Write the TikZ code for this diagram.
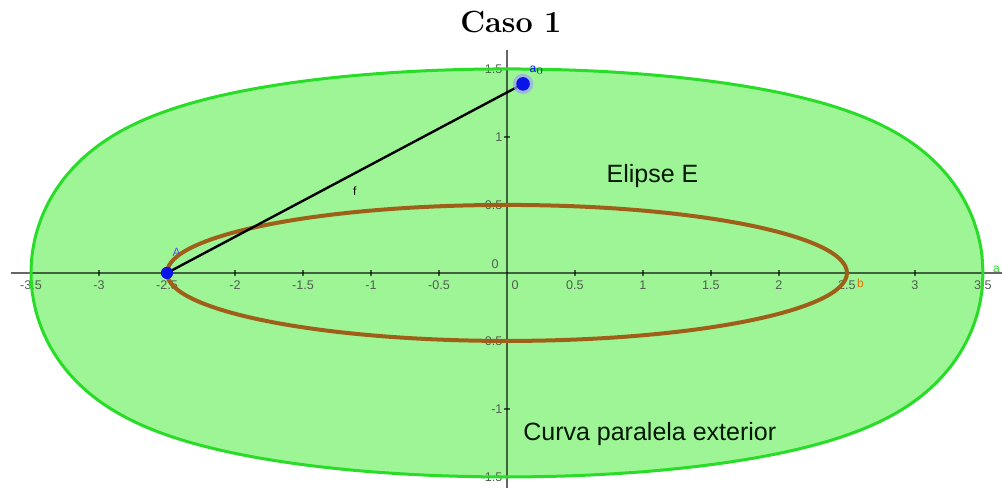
\documentclass[tikz,border=0pt]{standalone}
\usepackage{fontspec}
\newfontfamily\arialf{Liberation Sans}
\definecolor{fillgreen}{RGB}{158,245,150}
\definecolor{edgegreen}{RGB}{40,220,40}
\definecolor{ellbrown}{RGB}{160,95,25}
\definecolor{ptblue}{RGB}{10,20,230}
\definecolor{ticklab}{RGB}{80,95,80}
\definecolor{labA}{RGB}{90,80,220}
\tikzset{
  axisline/.style={line width=1pt, draw=black, draw opacity=0.6},
  tickmark/.style={line width=0.6pt, draw=black, draw opacity=0.6},
  ticklabel/.style={font=\arialf\fontsize{6.3}{7}\selectfont, text=ticklab, inner sep=0pt},
  bigtext/.style={font=\arialf\fontsize{12.5}{14}\selectfont, text=black!85!green!60!black, inner sep=0pt},
  smalllab/.style={font=\arialf\fontsize{6}{7}\selectfont, inner sep=0pt},
}
\begin{document}
\begin{tikzpicture}[x=68pt,y=68pt,
  declare function={sq(\t)=sqrt(0.25*cos(\t)^2+6.25*sin(\t)^2);
                    px(\t)=2.5*cos(\t)+0.5*cos(\t)/sq(\t);
                    py(\t)=0.5*sin(\t)+2.5*sin(\t)/sq(\t);}]
\useasboundingbox (-3.728,-1.581) rectangle (3.640,2.007);
% outer parallel curve
\fill[fillgreen] plot[domain=0:360,samples=241,smooth,variable=\t] ({px(\t)},{py(\t)}) -- cycle;
% axes
\coordinate (xl) at (-3.65,0);
\coordinate (xr) at (3.64,0);
\coordinate (yb) at (0,-1.581);
\coordinate (yt) at (0,1.64);
\draw[axisline] (xl) -- (xr);
\draw[axisline] (yb) -- (yt);
\foreach \v [count=\i] in {-3.5,-3,-2.5,-2,-1.5,-1,-0.5,0.5,1,1.5,2,2.5,3,3.5}{
  \draw[tickmark] (\v,-0.025) -- (\v,0.025);
  \node[ticklabel] (xt\i) at (\v,-0.09) {\v};
}
\node[ticklabel] (xt0) at (0.06,-0.09) {0};
\foreach \v [count=\i] in {-1.5,-1,-0.5,0.5,1,1.5}{
  \draw[tickmark] (-0.025,\v) -- (0.025,\v);
  \node[ticklabel,anchor=east] (yt\i) at (-0.03,\v) {\v};
}
\node[ticklabel] (yt0) at (-0.088,0.066) {0};
% outer curve edge
\draw[edgegreen,line width=1.5pt] plot[domain=0:360,samples=241,smooth,variable=\t] ({px(\t)},{py(\t)}) -- cycle;
% ellipse E
\draw[ellbrown,line width=2pt] (0,0) ellipse [x radius=2.5, y radius=0.5];
% segment f
\coordinate (A) at (-2.5,0);
\coordinate (a0) at (0.118,1.39);
\draw[black,line width=1.2pt] (A) -- (a0);
% points
\fill[ptblue!40,opacity=0.7] (a0) circle (0.075);
\fill[ptblue] (a0) circle (0.05);
\fill[ptblue] (A) circle (0.045);
% labels
\node[font=\fontsize{15.3}{18}\selectfont\bfseries, inner sep=0pt] (title) at (0.029,1.846) {Caso 1};
\node[bigtext] (elipse) at (1.07,0.71) {Elipse E};
\node[bigtext] (curva) at (1.05,-1.185) {Curva paralela exterior};
\node[smalllab, text=labA] (labA) at (-2.43,0.15) {A};
\node[smalllab, text=ptblue] (laba0) at (0.22,1.49) {a$_0$};
\node[smalllab, text=black] (labf) at (-1.12,0.60) {f};
\node[smalllab, text=orange!90!black] (labb) at (2.60,-0.075) {b};
\node[smalllab, text=edgegreen] (laba) at (3.60,0.03) {a};
\end{tikzpicture}
\end{document}
